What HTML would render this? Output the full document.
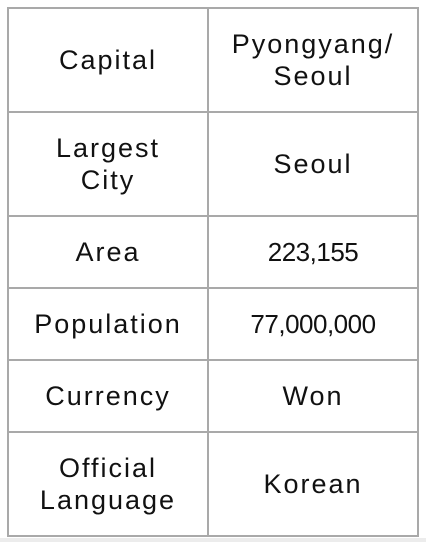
<!DOCTYPE html>
<html><head><meta charset="utf-8"><style>
html,body{margin:0;padding:0;background:#fff;width:426px;height:542px;overflow:hidden;position:relative;font-family:"Liberation Sans",sans-serif;}
.l{position:absolute;background:#a9a9a9;}
.c{position:absolute;display:flex;align-items:center;justify-content:center;text-align:center;font-size:27px;line-height:32px;color:#111;letter-spacing:2px;}
.n{letter-spacing:-0.5px;font-size:26px;}
#band{position:absolute;left:0;top:538px;width:426px;height:4px;background:#ececec;}
</style></head><body>
<div id="band"></div>
<div>
<div class="l" style="left:7px;top:7px;width:412px;height:2px"></div>
<div class="l" style="left:7px;top:111px;width:412px;height:2px"></div>
<div class="l" style="left:7px;top:215px;width:412px;height:2px"></div>
<div class="l" style="left:7px;top:287px;width:412px;height:2px"></div>
<div class="l" style="left:7px;top:359px;width:412px;height:2px"></div>
<div class="l" style="left:7px;top:431px;width:412px;height:2px"></div>
<div class="l" style="left:7px;top:535px;width:412px;height:2px"></div>
<div class="l" style="left:7px;top:7px;width:2px;height:530px"></div>
<div class="l" style="left:207px;top:7px;width:2px;height:530px"></div>
<div class="l" style="left:417px;top:7px;width:2px;height:530px"></div>

<div class="c" style="left:9px;top:9px;width:198px;height:102px">Capital</div>
<div class="c" style="left:209px;top:9px;width:208px;height:102px">Pyongyang/<br>Seoul</div>
<div class="c" style="left:9px;top:113px;width:198px;height:102px">Largest<br>City</div>
<div class="c" style="left:209px;top:113px;width:208px;height:102px">Seoul</div>
<div class="c" style="left:9px;top:217px;width:198px;height:70px">Area</div>
<div class="c n" style="left:209px;top:217px;width:208px;height:70px">223,155</div>
<div class="c" style="left:9px;top:289px;width:198px;height:70px">Population</div>
<div class="c n" style="left:209px;top:289px;width:208px;height:70px">77,000,000</div>
<div class="c" style="left:9px;top:361px;width:198px;height:70px">Currency</div>
<div class="c" style="left:209px;top:361px;width:208px;height:70px">Won</div>
<div class="c" style="left:9px;top:433px;width:198px;height:102px">Official<br>Language</div>
<div class="c" style="left:209px;top:433px;width:208px;height:102px">Korean</div>
</div>
</body></html>
